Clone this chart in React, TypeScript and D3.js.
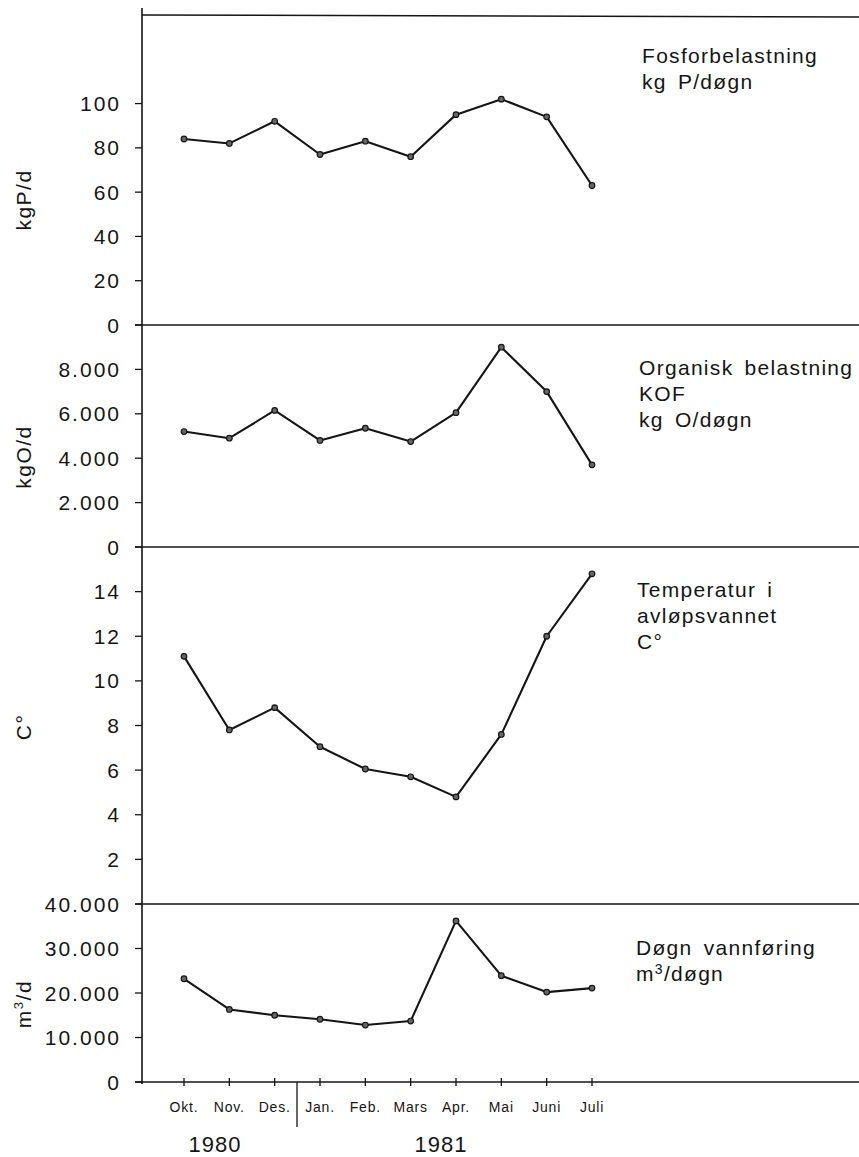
import React from "react";
import * as d3 from "d3";

const months = ["Okt.", "Nov.", "Des.", "Jan.", "Feb.", "Mars", "Apr.", "Mai", "Juni", "Juli"];
const phosphorus = [84, 82, 92, 77, 83, 76, 95, 102, 94, 63];
const organic = [5200, 4900, 6150, 4800, 5350, 4750, 6050, 9000, 7000, 3700];
const temperature = [11.1, 7.8, 8.8, 7.05, 6.05, 5.7, 4.8, 7.6, 12.0, 14.8];
const flow = [23200, 16300, 15000, 14100, 12800, 13700, 36200, 23900, 20200, 21100];

const phosTicks = [0, 20, 40, 60, 80, 100];
const orgTicks = [0, 2000, 4000, 6000, 8000];
const tempTicks = [2, 4, 6, 8, 10, 12, 14];
const flowTicks = [0, 10000, 20000, 30000, 40000];

const fmtThousands = (v: number) =>
  v >= 1000 ? `${Math.floor(v / 1000)}.${String(v % 1000).padStart(3, "0")}` : String(v);

const FONT = "'Liberation Sans', Arial, Helvetica, sans-serif";
const INK = "#151515";

const W = 859;
const H = 1157;
const AXIS_X = 142;
const RIGHT = 859;

type Panel = {
  values: number[];
  domain: [number, number];
  range: [number, number];
  ticks: number[];
  fmt: (v: number) => string;
  yTitle: React.ReactNode;
  yTitleY: number;
  title: React.ReactNode[];
  titleX: number;
  titleY: number;
};

export default function App() {
  const x = d3.scalePoint<string>().domain(months).range([184, 592]);

  const panels: Panel[] = [
    {
      values: phosphorus,
      domain: [0, 140],
      range: [325, 15],
      ticks: phosTicks,
      fmt: (v) => String(v),
      yTitle: "kgP/d",
      yTitleY: 200,
      title: ["Fosforbelastning", "kg P/døgn"],
      titleX: 642,
      titleY: 63,
    },
    {
      values: organic,
      domain: [0, 10000],
      range: [547, 325],
      ticks: orgTicks,
      fmt: fmtThousands,
      yTitle: "kgO/d",
      yTitleY: 457,
      title: ["Organisk belastning", "KOF", "kg O/døgn"],
      titleX: 639,
      titleY: 375,
    },
    {
      values: temperature,
      domain: [0, 16],
      range: [904, 547],
      ticks: tempTicks,
      fmt: (v) => String(v),
      yTitle: "C°",
      yTitleY: 727,
      title: ["Temperatur i", "avløpsvannet", "C°"],
      titleX: 637,
      titleY: 597,
    },
    {
      values: flow,
      domain: [0, 40000],
      range: [1082, 904],
      ticks: flowTicks,
      fmt: fmtThousands,
      yTitle: (
        <>
          m<tspan fontSize="13" dy="-8">3</tspan>
          <tspan dy="8">/d</tspan>
        </>
      ),
      yTitleY: 1004,
      title: [
        "Døgn vannføring",
        <>
          m<tspan fontSize="14" dy="-7">3</tspan>
          <tspan dy="7">/døgn</tspan>
        </>,
      ],
      titleX: 636,
      titleY: 955,
    },
  ];

  const baseY = 1082;

  return (
    <svg
      width={W}
      height={H}
      viewBox={`0 0 ${W} ${H}`}
      style={{ position: "absolute", left: 0, top: 0, background: "#fff" }}
      fontFamily={FONT}
    >
      <rect x={0} y={0} width={W} height={H} fill="#fff" />
      {/* main vertical axis */}
      <line x1={AXIS_X} x2={AXIS_X} y1={8} y2={baseY + 2} stroke={INK} strokeWidth={1.6} />
      {/* top frame line */}
      <line x1={AXIS_X} x2={RIGHT} y1={15} y2={17} stroke={INK} strokeWidth={1.5} />

      {panels.map((p, pi) => {
        const y = d3.scaleLinear().domain(p.domain).range(p.range);
        const line = d3
          .line<number>()
          .x((_, i) => x(months[i]) as number)
          .y((v) => y(v));
        return (
          <g key={pi}>
            {/* panel baseline */}
            <line x1={135} x2={RIGHT} y1={y(0)} y2={y(0)} stroke={INK} strokeWidth={1.5} />
            {p.ticks.map((t) => (
              <g key={t}>
                <line x1={135} x2={AXIS_X} y1={y(t)} y2={y(t)} stroke={INK} strokeWidth={1.3} />
                <text
                  x={121}
                  y={y(t)}
                  dy="0.36em"
                  textAnchor="end"
                  fontSize={21}
                  letterSpacing={2}
                  fill={INK}
                >
                  {p.fmt(t)}
                </text>
              </g>
            ))}
            <text
              transform={`translate(24, ${p.yTitleY}) rotate(-90)`}
              textAnchor="middle"
              dy="0.35em"
              fontSize={21}
              letterSpacing={1.5}
              fill={INK}
            >
              {p.yTitle}
            </text>
            <path d={line(p.values) || ""} fill="none" stroke={INK} strokeWidth={2.1} strokeLinejoin="round" />
            {p.values.map((v, i) => (
              <circle
                key={i}
                cx={x(months[i]) as number}
                cy={y(v)}
                r={2.8}
                fill="#666"
                stroke={INK}
                strokeWidth={1.2}
              />
            ))}
            {p.title.map((t, ti) => (
              <text
                key={ti}
                x={p.titleX}
                y={p.titleY + ti * 26}
                fontSize={21}
                letterSpacing={1.3}
                wordSpacing={4}
                fill={INK}
              >
                {t}
              </text>
            ))}
          </g>
        );
      })}

      {/* x-axis month ticks and labels */}
      {months.map((m) => (
        <g key={m}>
          <line
            x1={x(m) as number}
            x2={x(m) as number}
            y1={baseY - 4}
            y2={baseY + 4}
            stroke={INK}
            strokeWidth={1.3}
          />
          <text
            x={x(m) as number}
            y={1112}
            textAnchor="middle"
            fontSize={14}
            letterSpacing={0.8}
            fill={INK}
          >
            {m}
          </text>
        </g>
      ))}
      {/* year divider */}
      <line x1={297} x2={297} y1={baseY} y2={1127} stroke={INK} strokeWidth={1.3} />
      <text x={215} y={1152} textAnchor="middle" fontSize={22} letterSpacing={1} fill={INK}>
        1980
      </text>
      <text x={441} y={1152} textAnchor="middle" fontSize={22} letterSpacing={1} fill={INK}>
        1981
      </text>
    </svg>
  );
}
